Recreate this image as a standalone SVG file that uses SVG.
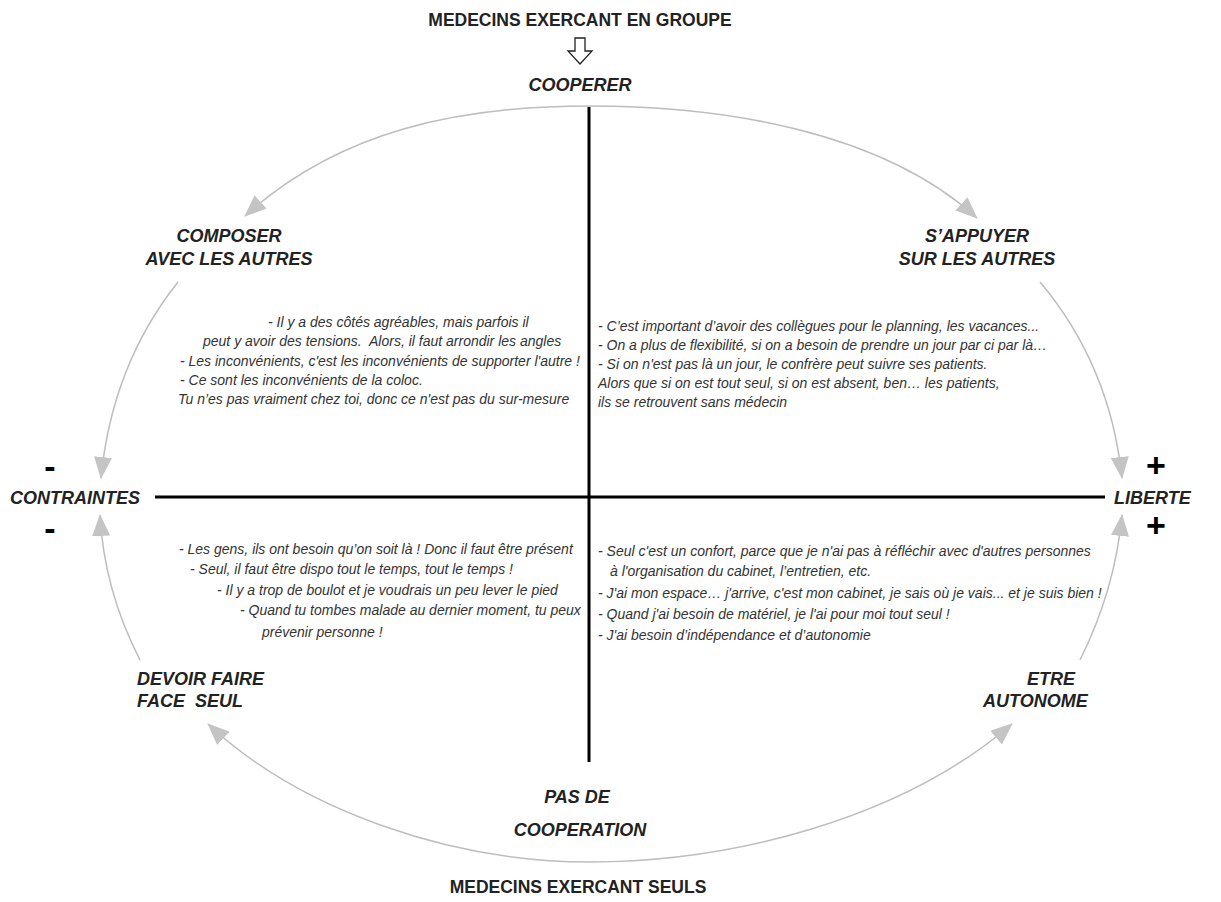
<svg xmlns="http://www.w3.org/2000/svg" width="1221" height="902" viewBox="0 0 1221 902">
<style>
.title{font-family:"Liberation Sans",Arial,sans-serif;font-weight:bold;font-size:17.5px;fill:#222;text-anchor:middle}
.lab{font-family:"Liberation Sans",Arial,sans-serif;font-weight:bold;font-style:italic;font-size:18px;fill:#222;white-space:pre}
.q{font-family:"Liberation Sans",Arial,sans-serif;font-style:italic;font-size:14px;fill:#333;white-space:pre}
.sign{font-family:"Liberation Sans",Arial,sans-serif;font-weight:bold;font-size:34px;fill:#000;text-anchor:middle}
.arc{fill:none;stroke:#bdbdbd;stroke-width:1.5}
.axis{stroke:#000;stroke-width:3}
</style>
<defs>
<marker id="ah" viewBox="0 0 22 18" refX="21" refY="9" markerWidth="22" markerHeight="18" markerUnits="userSpaceOnUse" orient="auto-start-reverse">
<path d="M0,0 L22,9 L0,18 Z" fill="#c4c4c4"/>
</marker>
</defs>
<rect width="1221" height="902" fill="#fff"/>

<g id="axes">
<line class="axis" x1="589" y1="107" x2="589" y2="762"/>
<line class="axis" x1="155" y1="497" x2="1105" y2="497"/>
</g>

<g id="connectors">
<path class="arc" d="M245,216 C340,130 460,106 590,106 C720,106 880,130 977,218" marker-start="url(#ah)" marker-end="url(#ah)"/>
<path class="arc" d="M178,282 Q112,365 101,478" marker-end="url(#ah)"/>
<path class="arc" d="M1040,282 Q1110,365 1122,478" marker-end="url(#ah)"/>
<path class="arc" d="M140,660 Q104,590 100,515" marker-end="url(#ah)"/>
<path class="arc" d="M1080,660 Q1115,590 1122,515" marker-end="url(#ah)"/>
<path class="arc" d="M208,724 C300,810 450,862 590,862 C730,862 900,820 1012,724" marker-start="url(#ah)" marker-end="url(#ah)"/>
</g>

<g id="top-title">
<text class="title" x="580" y="26">MEDECINS EXERCANT EN GROUPE</text>
<polygon points="575,38 585,38 585,51 592,51 580,64 568,51 575,51" fill="#fff" stroke="#222" stroke-width="1.3"/>
</g>

<g id="cooperer"><text class="lab" x="580" y="91" text-anchor="middle">COOPERER</text></g>

<g id="composer">
<text class="lab" x="229" y="242" text-anchor="middle">COMPOSER</text>
<text class="lab" x="229" y="265" text-anchor="middle">AVEC LES AUTRES</text>
</g>

<g id="sappuyer">
<text class="lab" x="977" y="242" text-anchor="middle">S’APPUYER</text>
<text class="lab" x="977" y="265" text-anchor="middle">SUR LES AUTRES</text>
</g>

<g id="contraintes">
<text class="sign" x="50" y="478">-</text>
<text class="lab" x="10" y="504">CONTRAINTES</text>
<text class="sign" x="50" y="540">-</text>
</g>

<g id="liberte">
<text class="sign" x="1156" y="477">+</text>
<text class="lab" x="1114" y="504">LIBERTE</text>
<text class="sign" x="1156" y="537">+</text>
</g>

<g id="devoir">
<text class="lab" x="137" y="685">DEVOIR FAIRE</text>
<text class="lab" x="137" y="707">FACE  SEUL</text>
</g>

<g id="etre">
<text class="lab" x="1027" y="685">ETRE</text>
<text class="lab" x="983" y="707">AUTONOME</text>
</g>

<g id="pasdecoop">
<text class="lab" x="577" y="803" text-anchor="middle">PAS DE</text>
<text class="lab" x="580" y="836" text-anchor="middle">COOPERATION</text>
</g>

<g id="bottom-title"><text class="title" x="578" y="893">MEDECINS EXERCANT SEULS</text></g>

<g id="quotes-tl">
<text class="q" x="268" y="327">- Il y a des côtés agréables, mais parfois il</text>
<text class="q" x="203" y="346">peut y avoir des tensions.  Alors, il faut arrondir les angles</text>
<text class="q" x="180" y="366">- Les inconvénients, c'est les inconvénients de supporter l'autre !</text>
<text class="q" x="180" y="385">- Ce sont les inconvénients de la coloc.</text>
<text class="q" x="178" y="404">Tu n’es pas vraiment chez toi, donc ce n'est pas du sur-mesure</text>
</g>

<g id="quotes-tr">
<text class="q" x="598" y="331">- C’est important d’avoir des collègues pour le planning, les vacances...</text>
<text class="q" x="598" y="350">- On a plus de flexibilité, si on a besoin de prendre un jour par ci par là…</text>
<text class="q" x="598" y="369">- Si on n'est pas là un jour, le confrère peut suivre ses patients.</text>
<text class="q" x="598" y="388">Alors que si on est tout seul, si on est absent, ben… les patients,</text>
<text class="q" x="598" y="407">ils se retrouvent sans médecin</text>
</g>

<g id="quotes-bl">
<text class="q" x="179" y="554">- Les gens, ils ont besoin qu’on soit là ! Donc il faut être présent</text>
<text class="q" x="190" y="574">- Seul, il faut être dispo tout le temps, tout le temps !</text>
<text class="q" x="217" y="595">- Il y a trop de boulot et je voudrais un peu lever le pied</text>
<text class="q" x="240" y="615">- Quand tu tombes malade au dernier moment, tu peux</text>
<text class="q" x="262" y="637">prévenir personne !</text>
</g>

<g id="quotes-br">
<text class="q" x="598" y="556">- Seul c'est un confort, parce que je n'ai pas à réfléchir avec d'autres personnes</text>
<text class="q" x="610" y="576">à l'organisation du cabinet, l’entretien, etc.</text>
<text class="q" x="598" y="598">- J'ai mon espace… j'arrive, c'est mon cabinet, je sais où je vais... et je suis bien !</text>
<text class="q" x="598" y="619">- Quand j'ai besoin de matériel, je l'ai pour moi tout seul !</text>
<text class="q" x="598" y="640">- J'ai besoin d’indépendance et d’autonomie</text>
</g>
</svg>
